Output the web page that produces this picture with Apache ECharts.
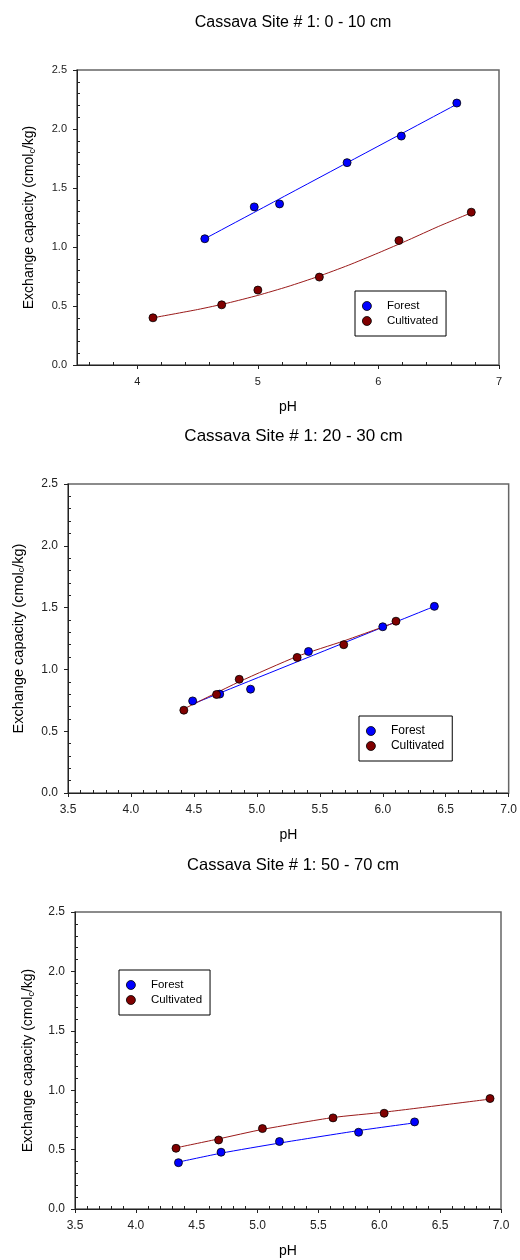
<!DOCTYPE html>
<html>
<head>
<meta charset="utf-8">
<script src="https://cdn.jsdelivr.net/npm/echarts@6/dist/echarts.min.js"></script>
<style>
html, body { margin: 0; padding: 0; background: #fff; }
#main { width: 520px; height: 1260px; }
</style>
</head>
<body>
<div id="main"></div>
<script>
// titles and names
var titles = ['Cassava Site # 1: 0 - 10 cm', 'Cassava Site # 1: 20 - 30 cm', 'Cassava Site # 1: 50 - 70 cm'];
var seriesNames = ['Forest', 'Cultivated'];

// tick labels
var xTicksTop = [4, 5, 6, 7];
var xTicks = [3.5, 4.0, 4.5, 5.0, 5.5, 6.0, 6.5, 7.0];
var yTicks = [0, 0.5, 1.0, 1.5, 2.0, 2.5];

// 0 - 10 cm
var forestPH1 = [4.56, 4.97, 5.18, 5.74, 6.19, 6.65];
var forestEC1 = [1.07, 1.34, 1.365, 1.715, 1.94, 2.22];
var cultPH1 = [4.13, 4.70, 5.00, 5.51, 6.17, 6.77];
var cultEC1 = [0.40, 0.51, 0.635, 0.745, 1.055, 1.295];
var forestFitPH1 = [4.56, 6.65];
var forestFitEC1 = [1.07, 2.21];
var cultFitPH1 = [4.13, 4.50, 4.75, 5.00, 5.25, 5.50, 5.75, 6.00, 6.25, 6.50, 6.77];
var cultFitEC1 = [0.40, 0.47, 0.525, 0.59, 0.665, 0.75, 0.845, 0.95, 1.06, 1.175, 1.29];

// 20 - 30 cm
var forestPH2 = [4.49, 4.705, 4.95, 5.41, 6.00, 6.41];
var forestEC2 = [0.745, 0.80, 0.84, 1.145, 1.345, 1.51];
var cultPH2 = [4.42, 4.68, 4.86, 5.32, 5.69, 6.105];
var cultEC2 = [0.67, 0.797, 0.92, 1.097, 1.20, 1.39];
var forestFitPH2 = [4.49, 6.41];
var forestFitEC2 = [0.72, 1.51];
var cultFitPH2 = [4.42, 4.86, 5.32, 5.69, 6.10];
var cultFitEC2 = [0.68, 0.90, 1.105, 1.23, 1.38];

// 50 - 70 cm
var forestPH3 = [4.35, 4.70, 5.18, 5.83, 6.29];
var forestEC3 = [0.39, 0.478, 0.568, 0.646, 0.733];
var cultPH3 = [4.33, 4.68, 5.04, 5.62, 6.04, 6.91];
var cultEC3 = [0.511, 0.581, 0.677, 0.767, 0.806, 0.93];
var forestFitPH3 = [4.35, 4.70, 5.18, 5.83, 6.29];
var forestFitEC3 = [0.395, 0.47, 0.555, 0.66, 0.725];
var cultFitPH3 = [4.33, 4.68, 5.04, 5.62, 6.04, 6.91];
var cultFitEC3 = [0.515, 0.59, 0.67, 0.77, 0.815, 0.925];

function zip(a, b) {
	return a.map(function(v, i) { return [v, b[i]]; });
}
// minor tick positions, skipping the major ones
function minorTicks(from, to, step, major) {
	var out = [];
	var n = Math.round((to - from) / step);
	for (var k = 0; k <= n; k++) {
		var v = +(from + k * step).toFixed(3);
		var r = v / major;
		if (Math.abs(r - Math.round(r)) > 1e-6) out.push(v);
	}
	return out;
}

var font = 'Liberation Sans, Arial, sans-serif';
var blue = '#0000ff', darkRed = '#800000', redLine = '#9a1a1a';

var panels = [
	{ left: 77, top: 70, width: 422, height: 295, titleTop: 10, titleSize: 16, fs: 11, nameFs: 14, nameGap: 40, legendLeft: 355, legendTop: 291, legendFs: 11.5,
	  xMajor: xTicksTop, xDigits: 0, xMinor: minorTicks(3.6, 6.8, 0.2, 1),
	  data: [[forestPH1, forestEC1], [cultPH1, cultEC1], [forestFitPH1, forestFitEC1], [cultFitPH1, cultFitEC1]] },
	{ left: 68, top: 484, width: 441, height: 309, titleTop: 423, titleSize: 17, fs: 12, nameFs: 14.5, nameGap: 42, legendLeft: 359, legendTop: 716, legendFs: 12,
	  xMajor: xTicks, xDigits: 1, xMinor: minorTicks(3.5, 7.0, 0.1, 0.5),
	  data: [[forestPH2, forestEC2], [cultPH2, cultEC2], [forestFitPH2, forestFitEC2], [cultFitPH2, cultFitEC2]] },
	{ left: 75, top: 912, width: 426, height: 297, titleTop: 852, titleSize: 16.5, fs: 12, nameFs: 14, nameGap: 39, legendLeft: 119, legendTop: 970, legendFs: 11.5,
	  xMajor: xTicks, xDigits: 1, xMinor: minorTicks(3.5, 7.0, 0.1, 0.5),
	  data: [[forestPH3, forestEC3], [cultPH3, cultEC3], [forestFitPH3, forestFitEC3], [cultFitPH3, cultFitEC3]] }
];
var yMinor = minorTicks(0, 2.5, 0.1, 0.5);

var title = [], grid = [], xAxis = [], yAxis = [], legend = [], series = [];
var minorX = [], minorY = [];

panels.forEach(function(p, i) {
	title.push({
		text: titles[i],
		left: p.left + p.width / 2,
		top: p.titleTop,
		textAlign: 'center',
		textStyle: { fontFamily: font, fontSize: p.titleSize, fontWeight: 'normal', color: '#000' }
	});
	grid.push({
		left: p.left, top: p.top, width: p.width, height: p.height,
		show: true, borderColor: '#666', borderWidth: 1.5, backgroundColor: '#fff'
	});
	xAxis.push({
		type: 'value', gridIndex: i, min: 3.5, max: 7, position: 'bottom',
		name: 'pH', nameLocation: 'middle', nameGap: 35,
		nameTextStyle: { fontFamily: font, fontSize: 14, color: '#000' },
		axisLine: { onZero: false, lineStyle: { color: '#222', width: 1 } },
		axisTick: { inside: false, length: 4, customValues: p.xMajor, lineStyle: { color: '#222' } },
		axisLabel: {
			customValues: p.xMajor, margin: 11, fontFamily: font, fontSize: p.fs, color: '#222',
			formatter: (function(d) { return function(v) { return v.toFixed(d); }; })(p.xDigits)
		},
		splitLine: { show: false }
	});
	yAxis.push({
		type: 'value', gridIndex: i, min: 0, max: 2.5, position: 'left',
		name: 'Exchange capacity (cmol{sub|c}/kg)', nameLocation: 'middle', nameGap: p.nameGap, nameRotate: 90,
		nameTextStyle: {
			fontFamily: font, fontSize: p.nameFs, color: '#000',
			rich: { sub: { fontFamily: font, fontSize: 9, color: '#000', verticalAlign: 'bottom', padding: [6, 0, 0, 0] } }
		},
		axisLine: { onZero: false, lineStyle: { color: '#222', width: 1 } },
		axisTick: { inside: false, length: 4, customValues: yTicks, lineStyle: { color: '#222' } },
		axisLabel: {
			customValues: yTicks, margin: 10, fontFamily: font, fontSize: p.fs, color: '#222',
			formatter: function(v) { return v.toFixed(1); }
		},
		splitLine: { show: false }
	});
	// overlay axes carrying the inward minor ticks
	minorX.push({
		type: 'value', gridIndex: i, min: 3.5, max: 7, position: 'bottom',
		axisLine: { show: false, onZero: false },
		axisTick: { inside: true, length: 3, customValues: p.xMinor, lineStyle: { color: '#222' } },
		axisLabel: { show: false },
		splitLine: { show: false }
	});
	minorY.push({
		type: 'value', gridIndex: i, min: 0, max: 2.5, position: 'left',
		axisLine: { show: false, onZero: false },
		axisTick: { inside: true, length: 3, customValues: yMinor, lineStyle: { color: '#222' } },
		axisLabel: { show: false },
		splitLine: { show: false }
	});
	legend.push({
		data: seriesNames,
		orient: 'vertical',
		left: p.legendLeft,
		top: p.legendTop,
		padding: [9, 8, 9, 7],
		itemGap: 3,
		itemWidth: 30,
		itemHeight: 9,
		icon: 'circle',
		selectedMode: false,
		borderColor: '#000',
		borderWidth: 1,
		backgroundColor: '#fff',
		itemStyle: { borderColor: '#000', borderWidth: 0.8 },
		textStyle: { fontFamily: font, fontSize: p.legendFs, color: '#000' }
	});

	// fitted lines
	[[2, blue, 'Forest fit'], [3, redLine, 'Cultivated fit']].forEach(function(f) {
		series.push({
			name: f[2], type: 'line', xAxisIndex: i, yAxisIndex: i,
			data: zip(p.data[f[0]][0], p.data[f[0]][1]),
			smooth: 0.2, symbol: 'none', z: 2,
			lineStyle: { color: f[1], width: 1 }
		});
	});
	// measured points
	[[0, blue, 'Forest'], [1, darkRed, 'Cultivated']].forEach(function(s) {
		series.push({
			name: s[2], type: 'scatter', xAxisIndex: i, yAxisIndex: i,
			data: zip(p.data[s[0]][0], p.data[s[0]][1]),
			symbol: 'circle', symbolSize: 8, z: 3,
			itemStyle: { color: s[1], borderColor: '#000', borderWidth: 0.8, opacity: 1 }
		});
	});
});

var myChart = echarts.init(document.getElementById('main'), null, { renderer: 'canvas' });
var option = {
	backgroundColor: '#fff',
	animation: false,
	title: title,
	grid: grid,
	xAxis: xAxis.concat(minorX),
	yAxis: yAxis.concat(minorY),
	legend: legend,
	series: series
};
myChart.setOption(option, true);
</script>
</body>
</html>
